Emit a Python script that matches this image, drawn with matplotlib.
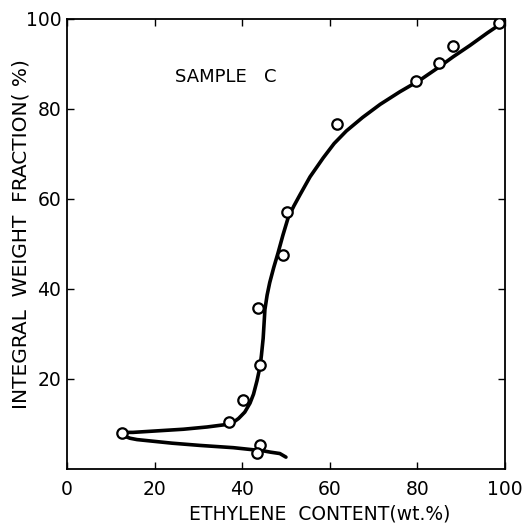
import matplotlib
matplotlib.use('Agg')
import matplotlib.pyplot as plt

# measured points (open circles)
pts_x = [12.6, 36.9, 40.1, 44.0, 43.6, 49.4, 50.2, 61.6, 79.6, 85.0, 88.2, 98.6, 44.1, 43.5]
pts_y = [8.0, 10.4, 15.2, 23.0, 35.8, 47.6, 57.1, 76.6, 86.3, 90.1, 94.0, 99.1, 5.4, 3.6]

# hand-drawn curve, traced from the lower tail round the turn and up
curve_x = [50.0, 48.6, 46.5, 44.8, 38.0, 30.4, 24.0, 19.0, 16.0, 14.4, 13.3, 13.0, 13.8, 15.1,
           20.0, 26.6, 32.0, 36.0, 37.8, 39.2, 40.6, 41.8, 42.6, 43.4, 44.1, 44.4, 44.8, 45.2,
           45.7, 46.3, 47.2, 48.2, 49.3, 50.5, 51.8, 53.2, 55.5, 58.5, 61.0, 63.8, 67.5, 71.5,
           76.0, 80.6, 84.5, 88.2, 92.0, 96.0, 99.5]
curve_y = [2.6, 3.4, 3.7, 4.0, 4.7, 5.2, 5.7, 6.2, 6.5, 6.8, 7.2, 7.8, 8.1, 8.1,
           8.4, 8.8, 9.3, 9.8, 10.2, 11.2, 12.6, 14.6, 16.6, 19.6, 22.8, 25.2, 29.0, 35.4,
           38.6, 41.4, 44.7, 48.0, 51.9, 55.8, 58.4, 60.9, 64.9, 69.1, 72.3, 75.1, 78.1, 81.0,
           83.8, 86.4, 89.0, 91.6, 94.1, 96.9, 99.2]

xticks = [0, 20, 40, 60, 80, 100]
yticks = [20, 40, 60, 80, 100]

fig = plt.figure(figsize=(5.31, 5.25), dpi=100)
ax = fig.add_axes([0.126, 0.107, 0.825, 0.857])

ax.plot(curve_x, curve_y, color='black', lw=2.6, solid_capstyle='round', zorder=2)
ax.plot(pts_x, pts_y, 'o', mfc='white', mec='black', mew=1.6, ms=7.5, zorder=3)

ax.set_xlim(0, 100)
ax.set_ylim(0, 100)
ax.set_xticks(xticks)
ax.set_yticks(yticks)
ax.tick_params(direction='in', length=5, width=1, top=True, right=True, labelsize=13.5)
ax.tick_params(axis='x', pad=8)
ax.tick_params(axis='y', pad=4)
for s in ax.spines.values():
    s.set_linewidth(1.3)

ax.set_xlabel('ETHYLENE  CONTENT(wt.%)', fontsize=13.5, va='center')
ax.xaxis.set_label_coords(0.578, -0.1)
ax.set_ylabel('INTEGRAL  WEIGHT  FRACTION( %)', fontsize=14.5, va='center')
ax.yaxis.set_label_coords(-0.105, 0.522)
ax.text(24.6, 87, 'SAMPLE   C', fontsize=13, va='center')

fig.savefig('out.png', dpi=100)
